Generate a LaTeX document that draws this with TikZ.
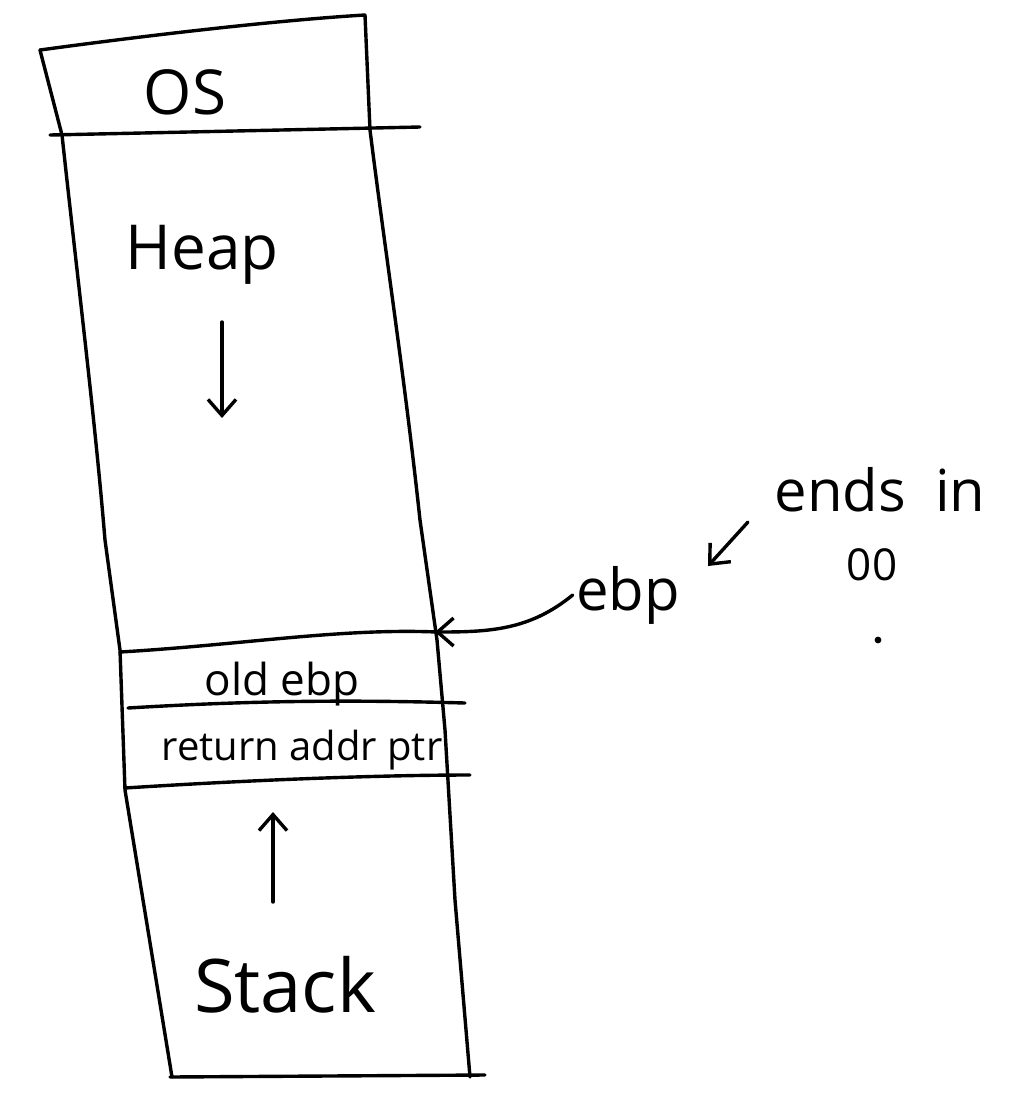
\documentclass[tikz,border=0pt]{standalone}
\usepackage{fontspec}
\setmainfont{Open Sans}
\usetikzlibrary{arrows.meta}
\begin{document}
\begin{tikzpicture}[x=1pt,y=-1pt,
  pen/.style={line width=3.4pt,line cap=round,line join=round},
  big/.style={font=\fontsize{62}{70}\selectfont},
  huge/.style={font=\fontsize{74}{80}\selectfont},
  mid/.style={font=\fontsize{58}{64}\selectfont},
  small/.style={font=\fontsize{40}{44}\selectfont},
  arr/.style={pen,-{Straight Barb[length=16pt,width=28pt,line width=3.4pt]}}]
\useasboundingbox (0,0) rectangle (1025,1096);
% outer walls
\draw[pen] (40,50) -- (62,135) .. controls (80,300) and (95,420) .. (105,540)
  -- (120,650) -- (125,790) -- (172,1077);
\draw[pen] (365,15) -- (370,130) .. controls (385,250) and (405,380) .. (420,520)
  -- (437,640) -- (445,730) -- (455,900) -- (470,1077);
% horizontal lines
\draw[pen] (40,50) .. controls (150,35) and (280,20) .. (365,15);
\draw[pen] (50,135) -- (420,127);
\draw[pen] (120,652) .. controls (240,645) and (340,628) .. (437,632);
\draw[pen] (128,708) .. controls (260,700) and (360,700) .. (465,703);
\draw[pen] (125,788) .. controls (250,780) and (380,775) .. (470,775);
\draw[pen] (170,1077) -- (485,1075);
% labels
\node[big] (os) at (185,92) {OS};
\node[big] (heap) at (202,255) {Heap};
\node[huge] (stack) at (285,985) {Stack};
\node[font=\fontsize{44}{48}\selectfont] (oldebp) at (282,684) {old ebp};
\node[small] (ret) at (302,750) {return addr ptr};
\node[mid] (ebp) at (628,595) {ebp};
\node[mid] (ends) at (880,490) {ends\enspace in};
\node[font=\fontsize{44}{48}\selectfont] (zz) at (872,565) {00};
\node[circle,fill,inner sep=2.4pt] (dot) at (878,640) {};
% arrows
\coordinate (hd1) at (222,322);
\coordinate (hd2) at (222,418);
\draw[arr] (hd1) -- (hd2);
\coordinate (su1) at (273,902);
\coordinate (su2) at (273,812);
\draw[arr] (su1) -- (su2);
\coordinate (ebptip) at (435,632);
\draw[arr] (ebp.west) .. controls (530,630) and (490,632) .. (ebptip);
\coordinate (ea) at (748,522);
\coordinate (eb) at (708,566);
\draw[arr] (ea) -- (eb);
\end{tikzpicture}
\end{document}
